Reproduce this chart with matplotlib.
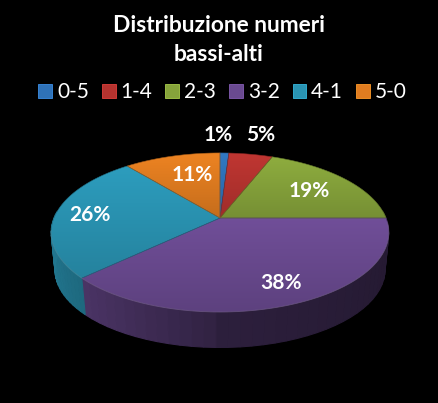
import numpy as np
import matplotlib
matplotlib.use("Agg")
import matplotlib.pyplot as plt
from matplotlib.colors import to_rgb
from matplotlib.patches import Patch, Polygon

title = "Distribuzione numeri\nbassi-alti"
categories = ["0-5", "1-4", "2-3", "3-2", "4-1", "5-0"]
values = [1, 5, 19, 38, 26, 11]
colors = ["#2f72b8", "#b5332f", "#86a33b", "#6a4a90", "#2a94b3", "#e07c20"]

# pie drawn in pixel coords, tilted disc with perspective
CX, CY = 220, 218
A, B, K = 166, 76.9, 0.182
DEPTH = 38
BOTTOM_SCALE = 0.978

plt.rcParams["font.family"] = ["Lato", "DejaVu Sans"]


def project(theta, r=1.0):
    # theta is clockwise from the back of the pie
    x = r * np.sin(theta)
    y = -r * np.cos(theta)
    w = 1 - K * y
    return CX + A * x / w, CY + B * y / w


def shade(color, f):
    c = np.array(to_rgb(color))
    return tuple(np.clip(c * f, 0, 1))


def gradient_fill(ax, poly_xy, c_top, c_bottom):
    # vertical gradient clipped to a polygon
    xs, ys = poly_xy[:, 0], poly_xy[:, 1]
    ext = (xs.min(), xs.max(), ys.max(), ys.min())
    t = np.linspace(0, 1, 64)
    grad = np.outer(1 - t, c_top) + np.outer(t, c_bottom)
    im = ax.imshow(grad[:, np.newaxis, :], extent=ext, aspect="auto", zorder=2, interpolation="bilinear")
    patch = Polygon(poly_xy, closed=True, transform=ax.transData, fc="none", ec="none")
    ax.add_patch(patch)
    im.set_clip_path(patch)


fig = plt.figure(figsize=(4.38, 4.03), dpi=100, facecolor="black")
ax = fig.add_axes([0, 0, 1, 1])
ax.set_facecolor("black")

edges = 2 * np.pi * np.cumsum([0] + values) / np.sum(values)

# side wall first, only the front half shows
for i, col in enumerate(colors):
    th = np.linspace(edges[i], edges[i + 1], 40)
    for t0, t1 in zip(th[:-1], th[1:]):
        if np.cos((t0 + t1) / 2) > 0.08:
            continue
        x0, y0 = project(t0)
        x1, y1 = project(t1)
        xb0, yb0 = project(t0, BOTTOM_SCALE)
        xb1, yb1 = project(t1, BOTTOM_SCALE)
        # light falls from the left
        s = np.sin((t0 + t1) / 2)
        f = 0.45 - 0.35 * s if s < 0 else 0.42 - 0.07 * s
        wall = [(x0, y0), (x1, y1), (xb1, yb1 + DEPTH), (xb0, yb0 + DEPTH)]
        ax.add_patch(Polygon(wall, closed=True, fc=shade(col, f), ec=shade(col, f), lw=0.8, zorder=1))

# top face
for i, col in enumerate(colors):
    th = np.linspace(edges[i], edges[i + 1], 80)
    px, py = project(th)
    poly = np.column_stack([np.r_[CX, px], np.r_[CY, py]])
    gradient_fill(ax, poly, shade(col, 1.06), shade(col, 0.88))
    ax.add_patch(Polygon(poly, closed=True, fc="none", ec=shade(col, 0.75), lw=0.4, zorder=3))

# thin light rim on front edge
th = np.linspace(np.pi * 0.52, np.pi * 1.45, 200)
px, py = project(th)
ax.plot(px, py, color="white", alpha=0.12, lw=0.7, zorder=3)

ax.text(219, 40, title, color="white", fontsize=16.4, fontweight="bold", ha="center", va="center", linespacing=1.42)

handles = [Patch(fc=c, ec=shade(c, 1.25), lw=0.6) for c in colors]
ax.legend(handles, categories, loc="center", bbox_to_anchor=(0.508, 1 - 92 / 403), ncol=6, frameon=False,
          labelcolor="white", fontsize=15, handlelength=0.66, handleheight=0.66,
          handletextpad=0.24, columnspacing=0.62, borderpad=0, borderaxespad=0)

label_xy = [(218, 135), (261, 135), (309, 191), (281, 283), (90, 215), (192, 175)]
for v, (lx, ly) in zip(values, label_xy):
    ax.text(lx, ly, "%d%%" % v, color="white", fontsize=15, fontweight="bold", ha="center", va="center", zorder=5)

ax.set_xlim(0, 438)
ax.set_ylim(403, 0)
ax.axis("off")

fig.savefig("out.png", dpi=100, facecolor="black")
